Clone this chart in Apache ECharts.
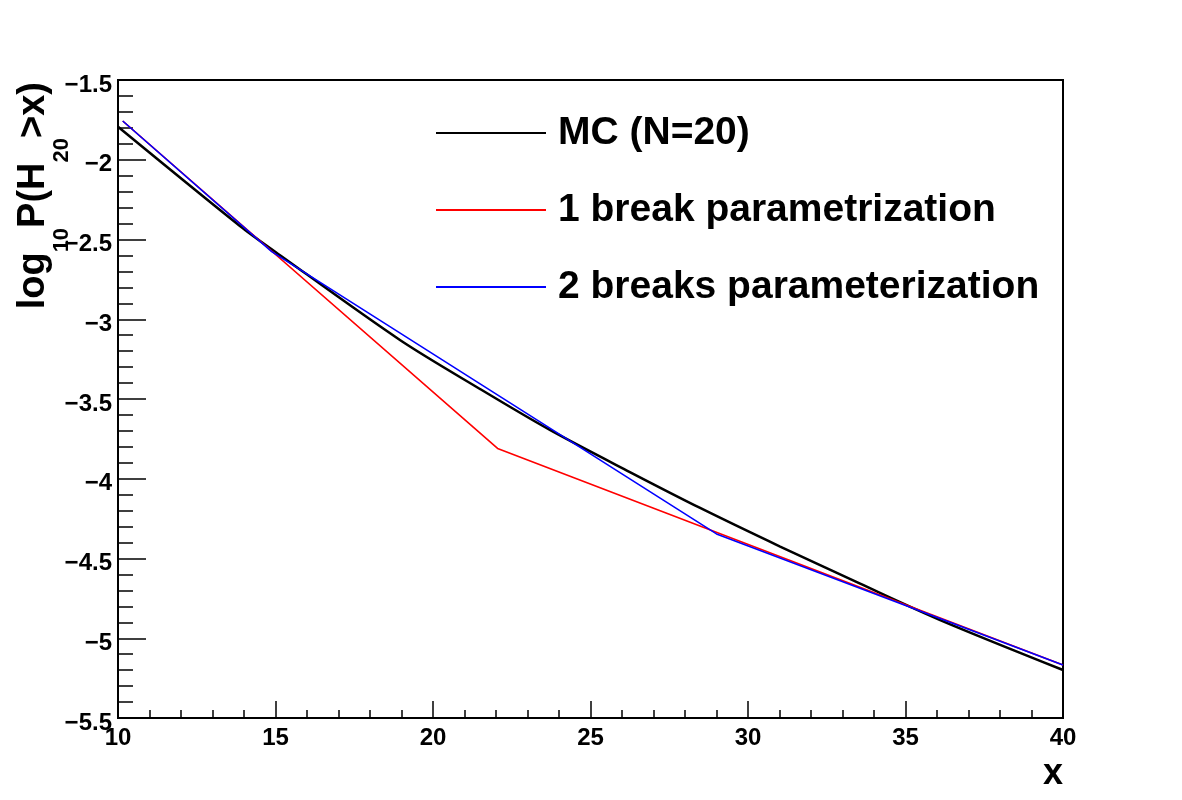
<!DOCTYPE html>
<html>
<head>
<meta charset="utf-8">
<script src="https://cdn.jsdelivr.net/npm/echarts@6/dist/echarts.min.js"></script>
<style>
  html, body { margin: 0; padding: 0; background: #fff; }
  #chart { width: 1182px; height: 800px; }
</style>
</head>
<body>
<div id="chart"></div>
<script>
// values
const mcX = [10, 13.87, 15, 18.95, 21.49, 23.71, 26.25, 28.48, 31.02, 33.56, 36.1, 40];
const mcY = [-1.793, -2.415, -2.578, -3.13, -3.437, -3.694, -3.958, -4.183, -4.425, -4.658, -4.886, -5.199];

const oneBreakX = [10.15, 22.05, 40];
const oneBreakY = [-1.757, -3.81, -5.168];

const twoBreaksX = [10.15, 14.88, 29.0, 40];
const twoBreaksY = [-1.757, -2.576, -4.346, -5.168];

const seriesNames = ['MC (N=20)', '1 break parametrization', '2 breaks parameterization'];
const seriesColors = ['#000000', '#ff0000', '#0000ff'];

const FONT = 'Liberation Sans';

const pairs = (xs, ys) => xs.map((x, i) => [x, ys[i]]);
const minusSign = v => String(v).replace('-', '\u2212');

const chart = echarts.init(document.getElementById('chart'));

const option = {
  backgroundColor: '#fff',
  animation: false,
  grid: {
    left: 118, right: 119, top: 80, bottom: 82,
    outerBoundsMode: 'none',
    containLabel: false,
    show: true,
    borderColor: '#000',
    borderWidth: 2,
    backgroundColor: 'transparent'
  },
  // y axis title, rotated, with subscripts
  graphic: [{
    type: 'text',
    x: 34,
    y: 82,
    rotation: Math.PI / 2,
    style: {
      text: '{m|log}{s|10}{m|P(H}{s|20}{m|>x)}',
      align: 'right',
      verticalAlign: 'middle',
      rich: {
        m: { fontFamily: FONT, fontWeight: 'bold', fontSize: 38, fill: '#000', lineHeight: 78 },
        s: { fontFamily: FONT, fontWeight: 'bold', fontSize: 22, fill: '#000', lineHeight: 24, verticalAlign: 'bottom' }
      }
    }
  }],
  legend: {
    data: seriesNames,
    orient: 'vertical',
    left: 436,
    top: 113,
    padding: 0,
    icon: 'rect',
    itemWidth: 110,
    itemHeight: 2,
    itemGap: 37,
    textStyle: {
      fontFamily: FONT,
      fontWeight: 'bold',
      fontSize: 39,
      lineHeight: 40,
      color: '#000',
      padding: [0, 0, 0, 7]
    }
  },
  xAxis: {
    type: 'value',
    min: 10,
    max: 40,
    interval: 5,
    name: 'x',
    nameLocation: 'end',
    nameGap: 0,
    nameTextStyle: {
      fontFamily: FONT,
      fontWeight: 'bold',
      fontSize: 36,
      color: '#000',
      align: 'right',
      verticalAlign: 'top',
      padding: [38, 0, 0, 0]
    },
    axisLine: { show: true, lineStyle: { color: '#000', width: 2 } },
    axisTick: { show: true, inside: true, length: 17, lineStyle: { color: '#000', width: 1.5 } },
    minorTick: { show: true, splitNumber: 5, length: 8, lineStyle: { color: '#000', width: 1.5 } },
    splitLine: { show: false },
    axisLabel: {
      fontFamily: FONT,
      fontWeight: 'bold',
      fontSize: 24,
      color: '#000',
      margin: 8,
      showMinLabel: true,
      showMaxLabel: true,
      formatter: minusSign
    }
  },
  yAxis: {
    type: 'value',
    min: -5.5,
    max: -1.5,
    interval: 0.5,
    axisLine: { show: true, lineStyle: { color: '#000', width: 2 } },
    axisTick: { show: true, inside: true, length: 28, lineStyle: { color: '#000', width: 1.5 } },
    minorTick: { show: true, splitNumber: 5, length: 15, lineStyle: { color: '#000', width: 1.5 } },
    splitLine: { show: false },
    axisLabel: {
      fontFamily: FONT,
      fontWeight: 'bold',
      fontSize: 24,
      color: '#000',
      margin: 6,
      verticalAlign: 'top',
      lineHeight: 10,
      showMinLabel: true,
      showMaxLabel: true,
      formatter: minusSign
    }
  },
  series: [
    {
      name: seriesNames[0],
      type: 'line',
      data: pairs(mcX, mcY),
      smooth: 0.3,
      symbol: 'none',
      color: seriesColors[0],
      lineStyle: { color: seriesColors[0], width: 2.5 },
      z: 2
    },
    {
      name: seriesNames[1],
      type: 'line',
      data: pairs(oneBreakX, oneBreakY),
      symbol: 'none',
      color: seriesColors[1],
      lineStyle: { color: seriesColors[1], width: 1.6 },
      z: 3
    },
    {
      name: seriesNames[2],
      type: 'line',
      data: pairs(twoBreaksX, twoBreaksY),
      symbol: 'none',
      color: seriesColors[2],
      lineStyle: { color: seriesColors[2], width: 1.6 },
      z: 4
    }
  ]
};

chart.setOption(option);
window.addEventListener('resize', function () {
  chart.resize();
});
</script>
</body>
</html>
